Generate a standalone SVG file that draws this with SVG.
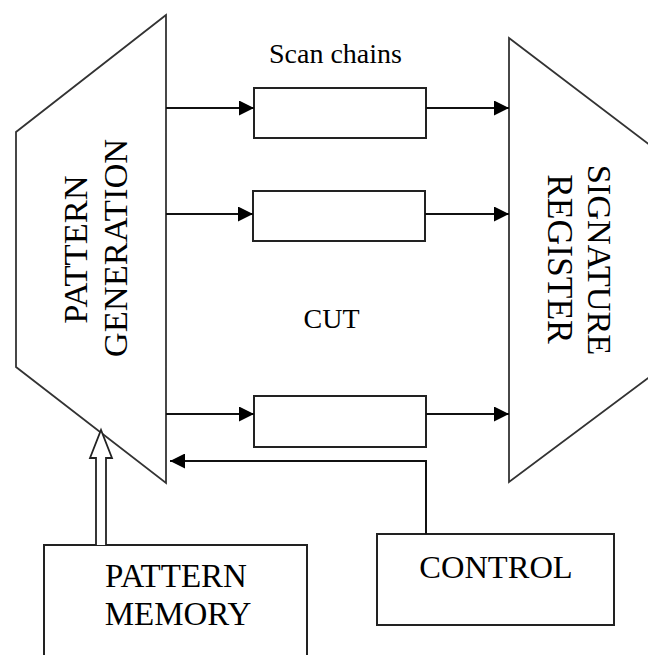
<svg xmlns="http://www.w3.org/2000/svg" width="648" height="655" viewBox="0 0 648 655">
  <defs>
    <style>
      .blk { fill: #fff; stroke: #222; stroke-width: 2; }
      .trap { fill: #fff; stroke: #333; stroke-width: 1.8; stroke-linejoin: miter; }
      .wire { fill: none; stroke: #111; stroke-width: 2; }
      .lbl { font-family: "Liberation Serif", "Times New Roman", serif; fill: #000; }
    </style>
    <marker id="head" viewBox="0 0 15 15" refX="15" refY="7.5" markerWidth="15" markerHeight="15" markerUnits="userSpaceOnUse" orient="auto">
      <path d="M0,0 L15,7.5 L0,15 Z" fill="#000"/>
    </marker>
  </defs>

  <rect width="648" height="655" fill="#fff"/>

  <!-- Pattern generator -->
  <g id="pattern-generation">
    <polygon class="trap" points="166,15 16,132 16,367 166,483"/>
    <text class="lbl" font-size="34.5" text-anchor="middle" transform="translate(87,249.5) rotate(-90)">PATTERN</text>
    <text class="lbl" font-size="34.5" text-anchor="middle" transform="translate(127,248) rotate(-90)">GENERATION</text>
  </g>

  <!-- Signature register -->
  <g id="signature-register">
    <polygon class="trap" points="509,38 659,152 659,370 509,482"/>
    <text class="lbl" font-size="34.3" text-anchor="middle" transform="translate(588,260) rotate(90)">SIGNATURE</text>
    <text class="lbl" font-size="35.5" text-anchor="middle" transform="translate(548,259) rotate(90)">REGISTER</text>
  </g>

  <!-- Circuit under test: scan chains -->
  <g id="cut">
    <text class="lbl" font-size="28" text-anchor="middle" x="335.5" y="63">Scan chains</text>
    <text class="lbl" font-size="28" text-anchor="middle" x="331.5" y="328">CUT</text>
  </g>
  <g id="scan-chain-1"><rect class="blk" x="254" y="88" width="172" height="50"/></g>
  <g id="scan-chain-2"><rect class="blk" x="253" y="191" width="172" height="50"/></g>
  <g id="scan-chain-3"><rect class="blk" x="254" y="396" width="172" height="51"/></g>

  <!-- Pattern memory -->
  <g id="pattern-memory">
    <rect class="blk" x="44" y="545" width="263" height="130"/>
    <text class="lbl" font-size="33" text-anchor="middle" x="176" y="587">PATTERN</text>
    <text class="lbl" font-size="33" text-anchor="middle" x="178" y="625">MEMORY</text>
  </g>

  <!-- Control -->
  <g id="control">
    <rect class="blk" x="377" y="534" width="237" height="91"/>
    <text class="lbl" font-size="32.5" text-anchor="middle" x="496" y="578">CONTROL</text>
  </g>

  <!-- Connectors -->
  <g id="connectors">
    <line class="wire" x1="166" y1="108" x2="254" y2="108" marker-end="url(#head)"/>
    <line class="wire" x1="166" y1="214" x2="253" y2="214" marker-end="url(#head)"/>
    <line class="wire" x1="166" y1="414" x2="254" y2="414" marker-end="url(#head)"/>
    <line class="wire" x1="426" y1="108" x2="509" y2="108" marker-end="url(#head)"/>
    <line class="wire" x1="425" y1="214" x2="509" y2="214" marker-end="url(#head)"/>
    <line class="wire" x1="426" y1="414" x2="509" y2="414" marker-end="url(#head)"/>
    <polyline class="wire" points="426,534 426,461 170,461" marker-end="url(#head)"/>
    <!-- hollow bus arrow from pattern memory -->
    <path d="M96,545 L96,458 L90,458 L101,430 L112,458 L106,458 L106,545" fill="#fff" stroke="#222" stroke-width="1.8" stroke-linejoin="miter"/>
  </g>
</svg>
